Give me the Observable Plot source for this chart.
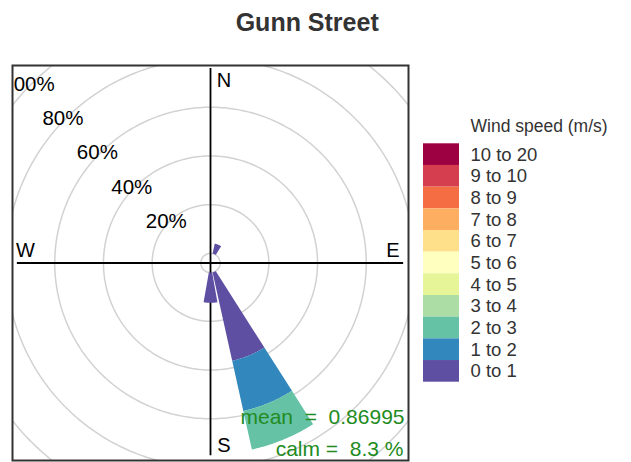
<!DOCTYPE html>
<html>
<head>
<meta charset="utf-8">
<script src="https://cdn.jsdelivr.net/npm/d3@7"></script>
<script src="https://cdn.jsdelivr.net/npm/@observablehq/plot@0.6"></script>
<style>
  body { margin: 0; background: #fff; font-family: "Liberation Sans", Arial, sans-serif; }
  #wrap { position: relative; width: 631px; height: 462px; overflow: hidden; }
  #wrap > .layer { position: absolute; }
</style>
</head>
<body>
<div id="wrap"></div>
<script>
// ---- data ----
const title = "Gunn Street";
const legendTitle = "Wind speed (m/s)";
const speedBins = ["0 to 1", "1 to 2", "2 to 3", "3 to 4", "4 to 5", "5 to 6",
                   "6 to 7", "7 to 8", "8 to 9", "9 to 10", "10 to 20"];
const palette = ["#5E4FA2", "#3288BD", "#66C2A5", "#ABDDA4", "#E6F598", "#FFFFBF",
                 "#FEE08B", "#FDAE61", "#F46D43", "#D53E4F", "#9E0142"];
// wind direction sectors (degrees, bearing) that have observations
const sectors = [22.5, 157.5, 180];
// frequency (%) per sector for each speed bin
const freq0to1 = [4.2, 37.2, 12.4];
const freq1to2 = [0, 21.1, 0];
const freq2to3 = [0, 16.2, 0];
const gridPct = [20, 40, 60, 80, 100, 120];
const gridLabels = ["20%", "40%", "60%", "80%", "100%", "120%"];
const compassLabels = ["N", "E", "S", "W"];
const meanSpeed = "0.86995";
const calmPct = "8.3";

// ---- geometry helpers (derived from data) ----
const offset = 3.95;      // calm circle radius, in % units
const halfWidth = 10;     // half angular width of each wedge (deg)
const rad = d => d * Math.PI / 180;
const binFreqs = [freq0to1, freq1to2, freq2to3];

const polys = [];
sectors.forEach((wd, i) => {
  let cum = 0;
  binFreqs.forEach((arr, b) => {
    const v = arr[i];
    if (!v) return;
    const r1 = offset + cum, r2 = offset + cum + v;
    cum += v;
    const id = i + "-" + b;
    const th = d3.range(wd - halfWidth, wd + halfWidth + 1e-9, 0.5);
    th.forEach(t => polys.push({id, bin: speedBins[b], x: r1 * Math.sin(rad(t)), y: r1 * Math.cos(rad(t))}));
    th.slice().reverse().forEach(t => polys.push({id, bin: speedBins[b], x: r2 * Math.sin(rad(t)), y: r2 * Math.cos(rad(t))}));
  });
});

const rings = [0, ...gridPct];
const ringPts = [];
rings.forEach(p => {
  const r = offset + p;
  d3.range(0, 361, 1).forEach(t => ringPts.push({ring: p, x: r * Math.sin(rad(t)), y: r * Math.cos(rad(t))}));
});
const ringLab = gridPct.map((p, i) => ({label: gridLabels[i], x: -(offset + p) * Math.SQRT1_2, y: (offset + p) * Math.SQRT1_2}));

const compassPos = [
  {label: "N", x: 5.5, y: 74.8},
  {label: "E", x: 74.9, y: 5.1},
  {label: "S", x: 5.5, y: -74.9},
  {label: "W", x: -76.0, y: 5.1}
].filter(d => compassLabels.includes(d.label));

const font = "Liberation Sans, Arial, sans-serif";

const chart = Plot.plot({
  width: 631, height: 462,
  marginLeft: 12, marginRight: 223, marginTop: 65, marginBottom: 2,
  x: {domain: [-81.3, 81.3], axis: null},
  y: {domain: [-81.1, 81.1], axis: null},
  color: {domain: speedBins, range: palette},
  style: {fontFamily: font, background: "transparent", overflow: "visible"},
  marks: [
    Plot.line(ringPts, {x: "x", y: "y", z: "ring", stroke: "#d2d2d2", strokeWidth: 1.5, clip: true}),
    Plot.ruleX([0], {y1: -79.2, y2: 79.9, stroke: "black", strokeWidth: 1.8}),
    Plot.ruleY([0], {x1: -79.3, x2: 79.3, stroke: "black", strokeWidth: 1.8}),
    Plot.line(polys, {x: "x", y: "y", z: "id", fill: "bin", stroke: "none"}),
    Plot.text(ringLab, {x: "x", y: "y", text: "label", dx: -3, fontSize: 20.5, fill: "black", clip: true}),
    Plot.text(compassPos, {x: "x", y: "y", text: "label", textAnchor: "middle", fontSize: 20, fill: "black"}),
    Plot.text(["mean\u00a0 =\u00a0 " + meanSpeed], {text: d => d, frameAnchor: "bottom-right", lineAnchor: "middle", dx: -4, dy: -43.7, textAnchor: "end", fontSize: 21, fill: "#228B22"}),
    Plot.text(["calm =\u00a0 " + calmPct + " %"], {text: d => d, frameAnchor: "bottom-right", lineAnchor: "middle", dx: -5, dy: -11.7, textAnchor: "end", fontSize: 21, fill: "#228B22"}),
    Plot.text([title], {text: d => d, frameAnchor: "top", lineAnchor: "middle", dx: 96.7, dy: -43, fontSize: 25, fontWeight: "bold", fill: "#333"}),
    Plot.frame({stroke: "#333", strokeWidth: 2})
  ]
});
chart.classList.add("layer");
chart.style.left = "0px"; chart.style.top = "0px";

const legendBins = speedBins.slice().reverse();
const legend = Plot.plot({
  width: 216, height: 300, margin: 0,
  x: {domain: [0, 216], range: [0, 216], axis: null},
  y: {type: "band", domain: legendBins, range: [43.3, 281.7], padding: 0, round: false, axis: null},
  color: {domain: speedBins, range: palette},
  style: {fontFamily: font, background: "transparent", overflow: "visible"},
  marks: [
    Plot.barX(legendBins, {x1: 8, x2: 44, y: d => d, fill: d => d}),
    Plot.text(legendBins, {x: 55, y: d => d, text: d => d, textAnchor: "start", fontSize: 18.5, fill: "#333"}),
    Plot.text([legendTitle], {text: d => d, frameAnchor: "top-left", lineAnchor: "middle", dx: 55, dy: 26, textAnchor: "start", fontSize: 17.5, fill: "#333"})
  ]
});
legend.classList.add("layer");
legend.style.left = "415px"; legend.style.top = "100px";

const wrap = document.getElementById("wrap");
wrap.appendChild(chart);
wrap.appendChild(legend);
</script>
</body>
</html>
